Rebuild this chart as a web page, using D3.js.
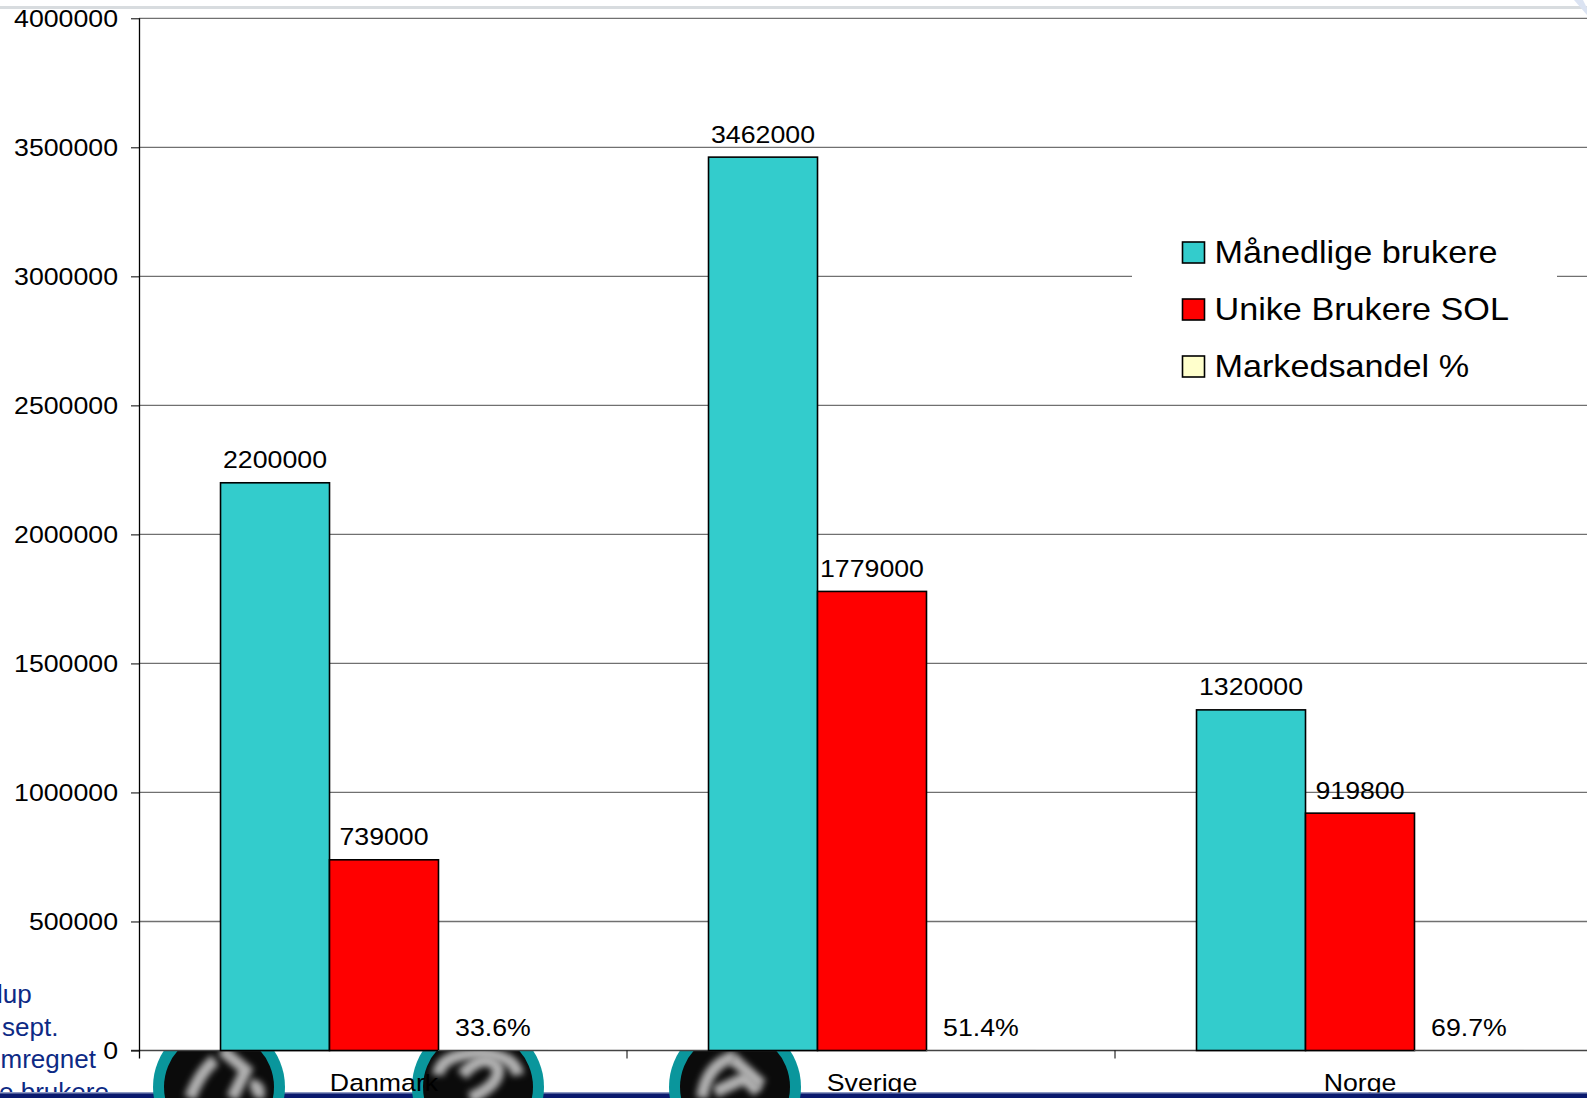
<!DOCTYPE html>
<html>
<head>
<meta charset="utf-8">
<script src="https://d3js.org/d3.v7.min.js"></script>
<style>
html, body { margin: 0; padding: 0; background: #fff; overflow: hidden; }
svg { display: block; font-family: "Liberation Sans", Arial, sans-serif; }
</style>
</head>
<body>
<svg id="chart"></svg>
<script>
const categories = ["Danmark", "Sverige", "Norge"];
const seriesNames = ["Månedlige brukere", "Unike Brukere SOL", "Markedsandel %"];
const seriesColors = ["#33cccc", "#ff0000", "#ffffcc"];
const maanedlige = [2200000, 3462000, 1320000];
const unike = [739000, 1779000, 919800];
const markedsandel = [33.6, 51.4, 69.7];
const yTicks = [0, 500000, 1000000, 1500000, 2000000, 2500000, 3000000, 3500000, 4000000];
const sideText = ["lup", "sept.", "mregnet", "e brukere"];

const width = 1587, height = 1098;
const plotLeft = 139, plotTop = 18.3, plotBottom = 1050.5, step = 488;

let svg = d3.select("#chart").attr("width", width).attr("height", height);

// the picture text is a bit wider than the font
function stretch(selection, k) {
    selection.each(function () {
        let w = this.getComputedTextLength();
        d3.select(this).attr("textLength", w * k).attr("lengthAdjust", "spacingAndGlyphs");
    });
}

let defs = svg.append("defs");
defs.append("filter").attr("id", "soft")
    .attr("filterUnits", "userSpaceOnUse")
    .attr("x", 0).attr("y", 1000).attr("width", width).attr("height", 98)
    .append("feGaussianBlur").attr("stdDeviation", 3.2);
defs.append("clipPath").attr("id", "belowAxis").append("rect")
    .attr("x", 0).attr("y", plotBottom).attr("width", width).attr("height", 60);
defs.append("clipPath").attr("id", "aboveFooter").append("rect")
    .attr("x", 0).attr("y", plotBottom).attr("width", width).attr("height", 1092.5 - plotBottom);

// slide background
svg.append("rect").attr("x", 0).attr("y", 6).attr("width", width).attr("height", 3).attr("fill", "#d8dcdf");
svg.append("path").attr("d", "M1574,0L1583,0L1587,8L1587,15Z").attr("fill", "#dbe3f2");

// side text sits behind the chart
svg.append("g").selectAll("text").data(sideText).enter().append("text")
    .attr("x", (d, i) => [-3, 2, 0.5, -1][i])
    .attr("y", (d, i) => 1003 + i * 32.5)
    .attr("font-size", 26).attr("fill", "#0d2a85")
    .text(d => d);

let y = d3.scaleLinear().domain([0, 4000000]).range([plotBottom, plotTop]);
let x0 = d3.scaleBand().domain(categories).range([plotLeft + 1, plotLeft + 1 + step * 3]).paddingInner(0.33).paddingOuter(0.165);
let x1 = d3.scaleBand().domain(d3.range(3)).range([0, x0.bandwidth()]);

// footer band and the round pictures
svg.append("rect").attr("x", 0).attr("y", 1093).attr("width", width).attr("height", 5).attr("fill", "#0a1a6e");
svg.append("rect").attr("x", 0).attr("y", 1092).attr("width", width).attr("height", 1.5).attr("fill", "#8f9bc4");

const discs = [
    {cx: 219, cy: 1087, shapes: ["M190,1098Q200,1072 215,1060", "M222,1050L246,1070L232,1098", "M250,1085Q262,1085 258,1098"]},
    {cx: 478, cy: 1087, shapes: ["M462,1075Q485,1050 498,1068Q500,1085 470,1098", "M438,1075Q440,1055 478,1053Q515,1055 518,1075"]},
    {cx: 735, cy: 1087, shapes: ["M702,1098Q706,1065 735,1056", "M715,1092L745,1078L758,1092", "M732,1058L762,1085"]}
];
let discLayer = svg.append("g").attr("clip-path", "url(#belowAxis)");
let disc = discLayer.selectAll("g").data(discs).enter().append("g");
disc.append("circle").attr("cx", d => d.cx).attr("cy", d => d.cy).attr("r", 66).attr("fill", "#0a969c");
disc.append("circle").attr("cx", d => d.cx).attr("cy", d => d.cy).attr("r", 55).attr("fill", "#0b0b0b");
disc.selectAll("path").data(d => d.shapes).enter().append("path")
    .attr("d", d => d)
    .attr("fill", "none").attr("stroke", "#b0b0b0").attr("stroke-width", 12)
    .attr("filter", "url(#soft)");

// grid
svg.append("g").selectAll("line").data(yTicks.slice(1)).enter().append("line")
    .attr("x1", plotLeft).attr("x2", width)
    .attr("y1", d => y(d)).attr("y2", d => y(d))
    .attr("stroke", "#707070").attr("stroke-width", 1.3);

// base line, under the bars
svg.append("line").attr("x1", plotLeft - 8).attr("x2", width)
    .attr("y1", plotBottom).attr("y2", plotBottom)
    .attr("stroke", "#444").attr("stroke-width", 1.4);

// axes
let yAxis = d3.axisLeft(y).tickValues(yTicks).tickSize(8).tickPadding(13).tickFormat(d => d);
let gy = svg.append("g").attr("transform", `translate(${plotLeft},0)`).call(yAxis);
gy.selectAll("text").attr("font-size", 24.5).attr("fill", "#000").call(stretch, 1.09);
gy.selectAll("line").attr("stroke", "#000");
gy.select(".domain").attr("stroke", "#000").attr("stroke-width", 1.3).attr("d", `M0.5,${plotTop}V${plotBottom + 8}`);

// category names lie over the pictures and stop at the footer
let xAxis = d3.axisBottom(x0).tickSize(0).tickPadding(0);
let gx = svg.append("g").attr("clip-path", "url(#aboveFooter)")
    .append("g").attr("transform", `translate(0,${plotBottom})`).call(xAxis);
gx.select(".domain").attr("stroke", "none");
gx.selectAll("text").attr("font-size", 24.5).attr("fill", "#000")
    .attr("dy", null).attr("y", 40).call(stretch, 1.09);
svg.append("g").selectAll("line").data([1, 2]).enter().append("line")
    .attr("x1", d => plotLeft + step * d).attr("x2", d => plotLeft + step * d)
    .attr("y1", plotBottom).attr("y2", plotBottom + 8).attr("stroke", "#000");

// bars
let rows = categories.map((c, i) => [maanedlige[i], unike[i], markedsandel[i]]);
let groups = svg.append("g").selectAll("g").data(rows).enter().append("g")
    .attr("transform", (d, i) => `translate(${x0(categories[i])},0)`);

groups.selectAll("rect").data(d => d).enter().append("rect")
    .attr("x", (d, i) => x1(i))
    .attr("y", d => y(d))
    .attr("width", x1.bandwidth())
    .attr("height", d => y(0) - y(d))
    .attr("fill", (d, i) => seriesColors[i])
    .attr("stroke", (d, i) => i === 2 ? "#444" : "#000")
    .attr("stroke-width", (d, i) => i === 2 ? 1 : 1.6);

groups.selectAll("text").data(d => d).enter().append("text")
    .attr("x", (d, i) => x1(i) + x1.bandwidth() / 2)
    .attr("y", d => y(d) - 14.5)
    .attr("text-anchor", "middle")
    .attr("font-size", 24.5).attr("fill", "#000")
    .text((d, i) => i === 2 ? d.toFixed(1) + "%" : d)
    .call(stretch, 1.09);

// legend
svg.append("rect").attr("x", 1132).attr("y", 225).attr("width", 425).attr("height", 170).attr("fill", "#fff");
let legend = svg.append("g").selectAll("g").data(seriesNames).enter().append("g")
    .attr("transform", (d, i) => `translate(1182.5,${263 + i * 57})`);
legend.append("rect").attr("y", -21).attr("width", 22).attr("height", 21)
    .attr("fill", (d, i) => seriesColors[i]).attr("stroke", "#000").attr("stroke-width", 1.6);
legend.append("text").attr("x", 32).attr("y", 0).attr("font-size", 31.5).attr("fill", "#000")
    .text(d => d).call(stretch, 1.085);
</script>
</body>
</html>
